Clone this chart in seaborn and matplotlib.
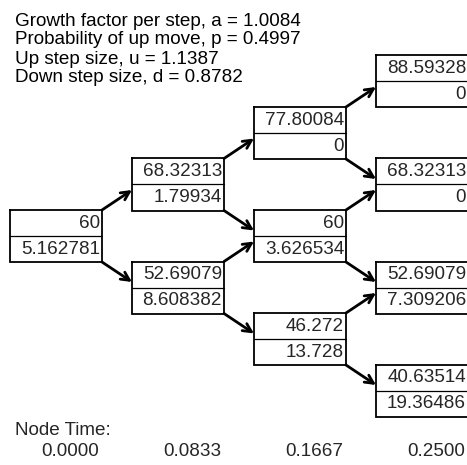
import matplotlib
matplotlib.use("Agg")
import matplotlib.pyplot as plt
import seaborn as sns

# Tree parameters (header lines)
param_labels = ["Growth factor per step, a", "Probability of up move, p",
                "Up step size, u", "Down step size, d"]
param_values = [1.0084, 0.4997, 1.1387, 0.8782]

# Node data per step: top value = stock price, bottom value = option price
node_times = [0.0, 0.0833, 0.1667, 0.25]
stock_prices = [
    [60],
    [68.32313, 52.69079],
    [77.80084, 60, 46.272],
    [88.59328, 68.32313, 52.69079, 40.63514],
]
option_values = [
    [5.162781],
    [1.79934, 8.608382],
    [0, 3.626534, 13.728],
    [0, 0, 7.309206, 19.36486],
]

sns.set_theme(style="white")
plt.rcParams["font.family"] = ["Liberation Sans", "DejaVu Sans"]

fig = plt.figure(figsize=(4.67, 4.65), dpi=100)
ax = fig.add_axes([0, 0, 1, 1])
ax.set_xlim(0, 467)
ax.set_ylim(465, 0)
ax.axis("off")

fs = 13.6
x0, dx, box_w = 10, 122, 92
y_mid, dy, row_h = 236, 51.5, 26

# header
for k, (lab, val) in enumerate(zip(param_labels, param_values)):
    ax.text(15, 21 + k * 19, f"{lab} = {val:.4f}",
            fontsize=fs, va="center", ha="left", color="black")

for i, (prices, opts) in enumerate(zip(stock_prices, option_values)):
    left = x0 + i * dx
    right = left + box_w
    for j, (s, o) in enumerate(zip(prices, opts)):
        cy = y_mid - (i - 2 * j) * dy
        top, bot = cy - row_h, cy + row_h
        ax.plot([left, right, right, left, left], [top, top, bot, bot, top],
                color="black", lw=1.3, solid_joinstyle="miter")
        ax.plot([left, right], [cy, cy], color="black", lw=0.9)
        ax.text(right - 2, cy - row_h / 2, f"{s:.7g}", fontsize=fs,
                ha="right", va="center")
        ax.text(right - 2, cy + row_h / 2, f"{o:.7g}", fontsize=fs,
                ha="right", va="center")
        if i < len(stock_prices) - 1:
            for sgn in (-1, 1):
                ax.annotate("", xy=(left + dx, cy + sgn * 46),
                            xytext=(right, cy + sgn * row_h),
                            arrowprops=dict(arrowstyle="->", lw=2.0,
                                            color="black", mutation_scale=15,
                                            shrinkA=0, shrinkB=0))

ax.text(15, 430, "Node Time:", fontsize=fs, ha="left", va="center")
for i, t in enumerate(node_times):
    ax.text(x0 + i * dx + box_w - 3, 451, f"{t:.4f}", fontsize=fs,
            ha="right", va="center")

fig.savefig("out.png", dpi=100)
